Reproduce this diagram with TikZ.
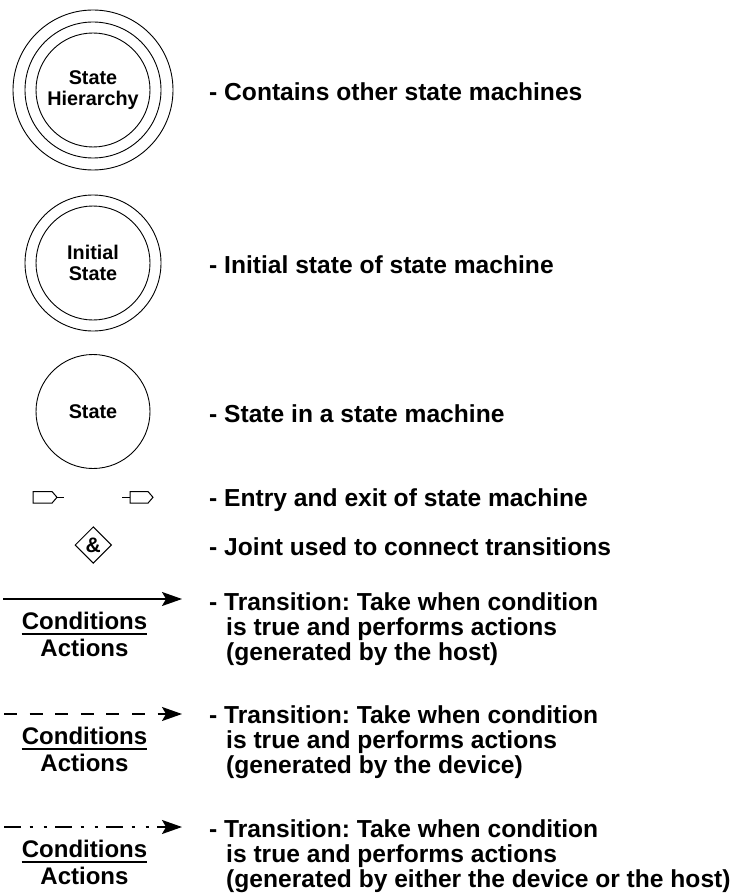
\documentclass[tikz,border=0pt]{standalone}
\usepackage{fontspec}
\setmainfont{Liberation Sans}
\usetikzlibrary{shapes.geometric,arrows.meta}

\begin{document}
\frenchspacing
\begin{tikzpicture}[x=1pt,y=-1pt,
  ring/.style={circle,draw,line width=0.9pt,inner sep=0pt},
  clabel/.style={font=\fontsize{19.8}{21}\selectfont\bfseries,align=center},
  desc/.style={anchor=base west,inner sep=0pt,font=\fontsize{24.6}{25}\selectfont\bfseries},
  cond/.style={anchor=base,inner sep=0pt,font=\fontsize{24}{25}\selectfont\bfseries},
  trans/.style={line width=1.5pt,-{Stealth[length=20pt,width=14pt,inset=4pt]}},
  uline/.style={line width=1.2pt},
  port/.style={line width=1pt,line join=miter}
]
\useasboundingbox (0,0) rectangle (737,896);

% State hierarchy
\node[ring,minimum size=160pt] (hierO) at (93,90) {};
\node[ring,minimum size=136pt] (hierM) at (93,90) {};
\node[ring,minimum size=114pt,clabel] (hier) at (93,90) {State\\Hierarchy};
\node[desc] (dhier) at (209,101) {- Contains other state machines};

% Initial state
\node[ring,minimum size=136pt] (initO) at (93,263) {};
\node[ring,minimum size=114pt,clabel] (init) at (93,263) {Initial\\State};
\node[desc] (dinit) at (209,273.5) {- Initial state of state machine};

% State
\node[ring,minimum size=114pt,clabel] (state) at (93,411.5) {State};
\node[desc] (dstate) at (209,422.3) {- State in a state machine};

% Entry and exit
\coordinate (entryTip) at (57,497.3);
\coordinate (entryEnd) at (64,497.3);
\draw[port] (33,491.5) -- (52,491.5) -- (entryTip) -- (52,503.1) -- (33,503.1) -- cycle;
\draw[port] (entryTip) -- (entryEnd);
\coordinate (exitStart) at (122,497.3);
\coordinate (exitBack) at (130,497.3);
\draw[port] (exitStart) -- (exitBack);
\draw[port] (130,491.5) -- (148,491.5) -- (153,497.3) -- (148,503.1) -- (130,503.1) -- cycle;
\node[desc] (dport) at (209,506.7) {- Entry and exit of state machine};

% Joint
\node[diamond,draw,line width=1pt,minimum width=36.6pt,minimum height=36.6pt,inner sep=0pt,
      font=\fontsize{21}{23}\selectfont\bfseries] (joint) at (93.3,545) {\&};
\node[desc] (djoint) at (209,555) {- Joint used to connect transitions};

% Transition (host)
\coordinate (t1s) at (3,599);
\coordinate (t1e) at (182,599);
\draw[trans] (t1s) -- (t1e);
\node[cond] (c1) at (84.5,629) {Conditions};
\draw[uline] ([yshift=-5pt]c1.base west) -- ([yshift=-5pt]c1.base east);
\node[cond] (a1) at (84.5,656) {Actions};
\node[desc] (d1a) at (209,610) {- Transition: Take when condition};
\node[desc] (d1b) at (226,635) {is true and performs actions};
\node[desc] (d1c) at (226,660) {(generated by the host)};

% Transition (device)
\coordinate (t2s) at (4,714);
\coordinate (t2e) at (182,714);
\draw[trans,dash pattern=on 13pt off 12.6pt] (t2s) -- (t2e);
\node[cond] (c2) at (84.5,744) {Conditions};
\draw[uline] ([yshift=-5pt]c2.base west) -- ([yshift=-5pt]c2.base east);
\node[cond] (a2) at (84.5,771) {Actions};
\node[desc] (d2a) at (209,723.5) {- Transition: Take when condition};
\node[desc] (d2b) at (226,748.5) {is true and performs actions};
\node[desc] (d2c) at (226,773.5) {(generated by the device)};

% Transition (either)
\coordinate (t3s) at (4,827);
\coordinate (t3e) at (182,827);
\draw[trans,dash pattern=on 17pt off 8.5pt on 3.5pt off 10.5pt on 3.5pt off 8pt] (t3s) -- (t3e);
\node[cond] (c3) at (84.5,857) {Conditions};
\draw[uline] ([yshift=-5pt]c3.base west) -- ([yshift=-5pt]c3.base east);
\node[cond] (a3) at (84.5,884) {Actions};
\node[desc] (d3a) at (209,837) {- Transition: Take when condition};
\node[desc] (d3b) at (226,862) {is true and performs actions};
\node[desc] (d3c) at (226,887) {(generated by either the device or the host)};
\end{tikzpicture}
\end{document}
